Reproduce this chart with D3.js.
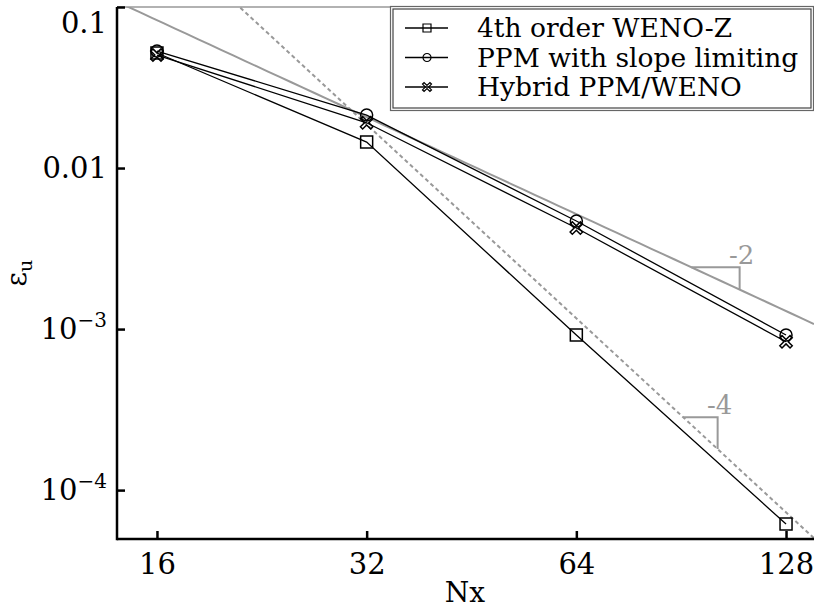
<!DOCTYPE html>
<html>
<head>
<meta charset="utf-8">
<script src="https://cdn.jsdelivr.net/npm/d3@7"></script>
<style>
  body { margin: 0; background: #fff; }
  svg { display: block; font-family: "DejaVu Serif", serif; }
</style>
</head>
<body>
<div id="chart"></div>
<script>
// grid sizes on the x axis
var nx = [16, 32, 64, 128];

// error values
var wenoZ = [0.0518, 0.01449, 9.18e-4, 6.15e-5];
var ppmSlope = [0.0533, 0.02133, 4.69e-3, 9.18e-4];
var hybrid = [0.0503, 0.0191, 4.24e-3, 8.34e-4];

var seriesNames = ["4th order WENO-Z", "PPM with slope limiting", "Hybrid PPM/WENO"];
var seriesMarkers = ["square", "circle", "cross"];

// reference slopes: err = c * N^order
var slopeOrders = [-2, -4];
var slopeConsts = [21.2, 19546];
var slopeTriN1 = [93.6, 91.1];
var slopeTriN2 = [109.8, 102.1];

var yTicks = [0.1, 0.01, 1e-3, 1e-4];
var yTickLabels = [["0.1"], ["0.01"], ["10", "\u22123"], ["10", "\u22124"]];

var w = 814, h = 608;
var pLeft = 117, pRight = 814, pTop = 7, pBottom = 539;

var svg = d3.select("#chart").append("svg")
  .attr("width", w)
  .attr("height", h);

var x = d3.scaleLog().base(2)
  .domain([14.02, 140.4])
  .range([pLeft, pRight]);

var y = d3.scaleLog()
  .domain([4.97e-5, 0.1])
  .range([pBottom, pTop]);

svg.append("clipPath").attr("id", "plotClip")
  .append("rect")
  .attr("x", pLeft).attr("y", pTop)
  .attr("width", pRight - pLeft).attr("height", pBottom - pTop);

// gray line on top
svg.append("line")
  .attr("x1", pLeft).attr("x2", pRight)
  .attr("y1", pTop).attr("y2", pTop)
  .attr("stroke", "#999").attr("stroke-width", 1.5);

var refs = svg.append("g").attr("clip-path", "url(#plotClip)");

// reference slope lines
var nLine = d3.range(0, 61).map(function(i) { return 14.02 * Math.pow(140.4 / 14.02, i / 60); });
slopeOrders.forEach(function(order, k) {
  refs.append("path")
    .datum(nLine)
    .attr("fill", "none")
    .attr("stroke", "#999")
    .attr("stroke-width", 2)
    .attr("stroke-dasharray", k == 1 ? "4,3" : null)
    .attr("d", d3.line()
      .x(function(d) { return x(d); })
      .y(function(d) { return y(slopeConsts[k] * Math.pow(d, order)); }));

  // slope triangle
  var n1 = slopeTriN1[k], n2 = slopeTriN2[k];
  var e1 = slopeConsts[k] * Math.pow(n1, order);
  var e2 = slopeConsts[k] * Math.pow(n2, order);
  refs.append("path")
    .attr("fill", "none")
    .attr("stroke", "#999")
    .attr("stroke-width", 2)
    .attr("d", d3.line()([[x(n1), y(e1)], [x(n2), y(e1)], [x(n2), y(e2)]]));

  svg.append("text")
    .attr("x", x(n2) + 2)
    .attr("y", y(e1) - 3)
    .attr("text-anchor", "middle")
    .attr("fill", "#999")
    .style("font-size", "26px")
    .text("-" + Math.abs(order));
});

// markers
function markerPath(type, s) {
  if (type == "square") {
    return "M" + (-s) + "," + (-s) + "H" + s + "V" + s + "H" + (-s) + "Z";
  }
  if (type == "circle") {
    return d3.symbol().type(d3.symbolCircle).size(Math.PI * s * s)();
  }
  // open "X" shaped marker
  var a = s * 0.35, b = s;
  var pts = [[0, -a], [b - a, -b], [b, -b + a], [a, 0], [b, b - a], [b - a, b],
             [0, a], [-b + a, b], [-b, b - a], [-a, 0], [-b, -b + a], [-b + a, -b]];
  return "M" + pts.map(function(p) { return p[0] + "," + p[1]; }).join("L") + "Z";
}

var allSeries = [wenoZ, ppmSlope, hybrid];
var markerSize = [6, 6, 6.2];

allSeries.forEach(function(vals, k) {
  svg.append("path")
    .datum(vals)
    .attr("fill", "none")
    .attr("stroke", "#000")
    .attr("stroke-width", 1.3)
    .attr("d", d3.line()
      .x(function(d, i) { return x(nx[i]); })
      .y(function(d) { return y(d); }));

  svg.selectAll(".mk" + k)
    .data(vals)
    .enter().append("path")
    .attr("class", "mk" + k)
    .attr("transform", function(d, i) { return "translate(" + x(nx[i]) + "," + y(d) + ")"; })
    .attr("d", markerPath(seriesMarkers[k], markerSize[k]))
    .attr("fill", "none")
    .attr("stroke", "#000")
    .attr("stroke-width", 1.5);
});

// axes
var xAxis = d3.axisBottom(x)
  .tickValues(nx)
  .tickSize(-8)
  .tickPadding(14)
  .tickFormat(d3.format("d"));

var gx = svg.append("g")
  .attr("transform", "translate(0," + pBottom + ")")
  .call(xAxis);
gx.select(".domain").remove();
gx.selectAll(".tick line").attr("stroke", "#000").attr("stroke-width", 2.5);
gx.selectAll(".tick text")
  .attr("fill", "#000")
  .attr("font-family", "DejaVu Serif")
  .style("font-size", "29px");

var yAxis = d3.axisLeft(y)
  .tickValues(yTicks)
  .tickSize(-8)
  .tickFormat("");

var gy = svg.append("g")
  .attr("transform", "translate(" + pLeft + ",0)")
  .call(yAxis);
gy.select(".domain").remove();
gy.selectAll(".tick line").attr("stroke", "#000").attr("stroke-width", 2.5);

// y tick labels with superscripts
yTicks.forEach(function(t, i) {
  var ty = y(t);
  if (i == 0) ty = 23;  // top label sits lower in the original
  var txt = svg.append("text")
    .attr("x", pLeft - 10)
    .attr("y", ty + 10)
    .attr("text-anchor", "end")
    .style("font-size", "29px");
  txt.append("tspan").text(yTickLabels[i][0]);
  if (yTickLabels[i].length > 1) {
    txt.append("tspan")
      .attr("dy", -12)
      .style("font-size", "20px")
      .text(yTickLabels[i][1]);
  }
});

// spines
svg.append("line")
  .attr("x1", pLeft).attr("x2", pLeft)
  .attr("y1", pTop).attr("y2", pBottom + 1.25)
  .attr("stroke", "#000").attr("stroke-width", 2.5);
svg.append("line")
  .attr("x1", pLeft).attr("x2", pRight)
  .attr("y1", pBottom).attr("y2", pBottom)
  .attr("stroke", "#000").attr("stroke-width", 2.5);

// axis labels
svg.append("text")
  .attr("x", 465)
  .attr("y", 602)
  .attr("text-anchor", "middle")
  .style("font-size", "28px")
  .text("Nx");

var yl = svg.append("text")
  .attr("transform", "translate(26,273) rotate(-90)")
  .attr("text-anchor", "middle")
  .style("font-size", "28px");
yl.append("tspan").text("\u03b5");
yl.append("tspan").attr("dy", 6).style("font-size", "19px").text("u");

// legend
var lg = svg.append("g");
lg.append("rect")
  .attr("x", 390.5).attr("y", 6.5)
  .attr("width", 423).attr("height", 104)
  .attr("fill", "#fff").attr("stroke", "#666").attr("stroke-width", 1.2);
lg.append("rect")
  .attr("x", 393).attr("y", 9)
  .attr("width", 418).attr("height", 99)
  .attr("fill", "none").attr("stroke", "#444").attr("stroke-width", 1.2);

var rowY = [28, 57.5, 87];
var legendMarkerSize = [4, 4, 4.5];
seriesNames.forEach(function(name, k) {
  lg.append("line")
    .attr("x1", 405).attr("x2", 448)
    .attr("y1", rowY[k]).attr("y2", rowY[k])
    .attr("stroke", "#000").attr("stroke-width", 1.3);
  lg.append("path")
    .attr("transform", "translate(427," + rowY[k] + ")")
    .attr("d", markerPath(seriesMarkers[k], legendMarkerSize[k]))
    .attr("fill", "none")
    .attr("stroke", "#000")
    .attr("stroke-width", 1.2);
  lg.append("text")
    .attr("x", 477)
    .attr("y", rowY[k] + 9)
    .style("font-size", "26.5px")
    .text(name);
});
</script>
</body>
</html>
